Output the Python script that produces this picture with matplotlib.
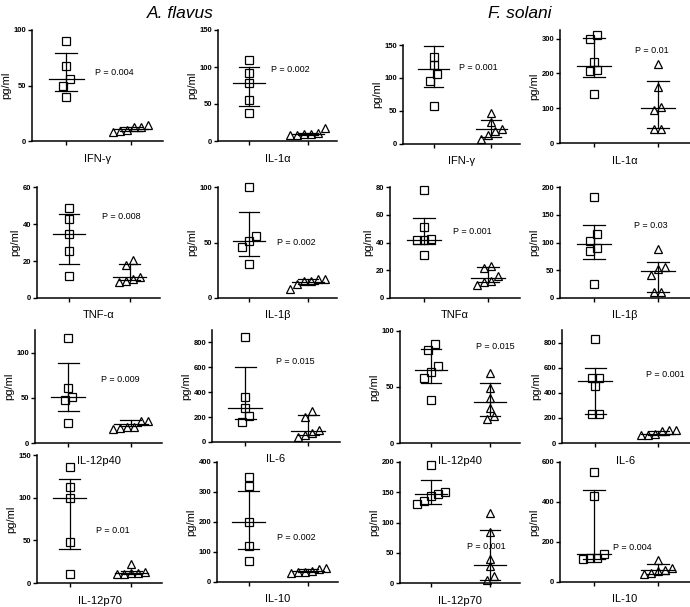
import matplotlib.pyplot as plt
import numpy as np

plt.rcParams['font.family'] = ['Liberation Sans', 'DejaVu Sans']

# panel order: row by row, columns = A. flavus (2), F. solani (2)
names = ['IFN-γ', 'IL-1α', 'IFN-γ', 'IL-1α',
         'TNF-α', 'IL-1β', 'TNFα', 'IL-1β',
         'IL-12p40', 'IL-6', 'IL-12p40', 'IL-6',
         'IL-12p70', 'IL-10', 'IL-12p70', 'IL-10']
pvals = ['0.004', '0.002', '0.001', '0.01',
         '0.008', '0.002', '0.001', '0.03',
         '0.009', '0.015', '0.015', '0.001',
         '0.01', '0.002', '0.001', '0.004']
ymax = [100, 150, 150, 325, 60, 100, 80, 200, 125, 900, 100, 900, 150, 400, 200, 600]
ystep = [50, 50, 50, 100, 20, 50, 20, 50, 50, 200, 50, 200, 50, 100, 50, 200]

# patients (squares) and controls (triangles)
af_ifng = [90, 68, 56, 50, 40]
af_ifng_c = [13, 10, 8, 9, 13, 14]
af_il1a = [109, 92, 79, 56, 38]
af_il1a_c = [11, 9, 8, 8, 10, 17]
fs_ifng = [132, 120, 106, 96, 58]
fs_ifng_c = [47, 34, 22, 19, 13, 7]
fs_il1a = [300, 310, 233, 209, 206, 140]
fs_il1a_c = [228, 161, 104, 96, 41, 41]
af_tnfa = [48.6, 42.7, 34.6, 25.2, 11.7]
af_tnfa_c = [20.4, 17.7, 10.5, 11.4, 8.6, 9]
af_il1b = [100, 55.6, 51.4, 46, 30.5]
af_il1b_c = [17, 15, 8.5, 13, 15, 17]
fs_tnfa = [77.6, 51.2, 41.6, 41.6, 42.5, 31.2]
fs_tnfa_c = [23.3, 21.6, 16.1, 12, 9.6, 11.3]
fs_il1b = [182, 115, 103, 90, 84, 26]
fs_il1b_c = [89, 52, 55.5, 42, 10, 10]
af_il12p40 = [116.5, 60.4, 50.5, 47.6, 22]
af_il12p40_c = [24, 18, 16, 17, 18, 24]
af_il6 = [846, 362, 276, 207, 161]
af_il6_c = [250, 201, 72, 94, 40, 54]
fs_il12p40 = [88, 82.7, 68.5, 63.4, 58.3, 38.7]
fs_il12p40_c = [62.5, 49.4, 40.5, 31.5, 21.7, 23.8]
fs_il6 = [827, 521, 521, 457, 234, 234]
fs_il6_c = [106, 74, 66, 66, 93, 106]
af_il12p70 = [136, 113, 100, 48, 10]
af_il12p70_c = [22, 13, 10, 11, 12, 12]
af_il10 = [350, 320, 200, 120, 70]
af_il10_c = [48, 35, 30, 32, 38, 45]
fs_il12p70 = [195, 150, 147, 143, 135, 130]
fs_il12p70_c = [115, 85, 40, 28, 12, 5]
fs_il10 = [550, 430, 140, 120, 115, 122]
fs_il10_c = [110, 70, 60, 55, 45, 40]

cases = [af_ifng, af_il1a, fs_ifng, fs_il1a, af_tnfa, af_il1b, fs_tnfa, fs_il1b,
         af_il12p40, af_il6, fs_il12p40, fs_il6, af_il12p70, af_il10, fs_il12p70, fs_il10]
ctls = [af_ifng_c, af_il1a_c, fs_ifng_c, fs_il1a_c, af_tnfa_c, af_il1b_c, fs_tnfa_c, fs_il1b_c,
        af_il12p40_c, af_il6_c, fs_il12p40_c, fs_il6_c, af_il12p70_c, af_il10_c, fs_il12p70_c, fs_il10_c]

# summary line and bars (centre, low, high)
summ_case = [(56, 45, 79), (78.6, 47, 100), (113, 87, 148), (221, 190, 303),
             (34.6, 18.4, 45.6), (51.7, 38, 77.3), (42, 39, 57.7), (97, 70, 131),
             (50.5, 35.5, 88.6), (274, 188, 604), (65, 53.6, 84), (492, 234, 601),
             (100, 40, 122), (200, 110, 305), (147, 130, 170), (140, 115, 460)]
summ_ctl = [(11, 9, 13), (9.5, 8, 11), (22, 11, 37), (102, 43, 178),
            (11.2, 10, 18.4), (14.5, 13, 17), (14.4, 11.3, 22.4), (49, 11, 64.5),
            (21, 19, 25.6), (86, 59, 215), (37, 24, 54), (74, 66, 95),
            (12, 10, 14), (38, 32, 45), (30, 5, 88), (60, 40, 90)]

# layout in pixels: (left, top, right, bottom)
W, H = 690, 607
boxes = [(32, 30, 163, 141), (218, 30, 337, 141), (403, 45, 520, 144), (560, 30, 690, 143),
         (37, 187, 160, 298), (218, 187, 337, 298), (390, 187, 520, 298), (560, 187, 690, 298),
         (35, 330, 162, 443), (212, 330, 340, 442), (400, 331, 520, 443), (562, 330, 690, 443),
         (37, 455, 162, 583), (217, 462, 338, 582), (400, 462, 520, 583), (560, 462, 690, 582)]
ptxt = [(1.45, 62, 'left'), (1.37, 96, 'left'), (1.44, 116, 'left'), (1.9, 266, 'center'),
        (1.55, 44, 'left'), (1.47, 50, 'left'), (1.46, 48, 'left'), (1.63, 131, 'left'),
        (1.52, 70, 'left'), (1.48, 650, 'left'), (1.76, 86, 'left'), (1.8, 545, 'left'),
        (1.43, 62, 'left'), (1.47, 150, 'left'), (1.6, 60, 'left'), (1.3, 170, 'left')]

XL = (0.47, 2.5)
MS = 7.0  # marker size, px


def swarm(vals, ppu_y, upx_x):
    # spread points that sit within one marker of each other, centred on the column
    order = np.argsort(vals)
    off = np.zeros(len(vals))
    groups, cur = [], [order[0]]
    for k in order[1:]:
        if (vals[k] - vals[cur[-1]]) * ppu_y < MS:
            cur.append(k)
        else:
            groups.append(cur)
            cur = [k]
    groups.append(cur)
    for g in groups:
        n = len(g)
        for i, k in enumerate(g):
            off[k] = (i - (n - 1) / 2) * MS * upx_x
    return off


fig = plt.figure(figsize=(W / 100, H / 100), dpi=100)

for i in range(16):
    l, t, r, b = boxes[i]
    ax = fig.add_axes([l / W, 1 - b / H, (r - l) / W, (b - t) / H])
    ax.patch.set_visible(False)
    ax.set_xlim(*XL)
    ax.set_ylim(0, ymax[i])
    ppu_y = (b - t) / ymax[i]
    upx_x = (XL[1] - XL[0]) / (r - l)
    for xc, vals, summ, mk in [(1, cases[i], summ_case[i], 's'), (2, ctls[i], summ_ctl[i], '^')]:
        vals = np.array(vals, dtype=float)
        xs = xc + swarm(vals, ppu_y, upx_x)
        ax.plot(xs, vals, mk, ms=5.2 if mk == 's' else 5.6, mfc='none', mec='black',
                mew=0.9, zorder=3, clip_on=False)
        c, lo, hi = summ
        ax.plot([xc, xc], [lo, hi], color='black', lw=0.9, zorder=2)
        ax.plot([xc - 0.27, xc + 0.27], [c, c], color='black', lw=0.9, zorder=2)
        ax.plot([xc - 0.17, xc + 0.17], [lo, lo], color='black', lw=0.9, zorder=2)
        ax.plot([xc - 0.17, xc + 0.17], [hi, hi], color='black', lw=0.9, zorder=2)
    ax.spines['top'].set_visible(False)
    ax.spines['right'].set_visible(False)
    ax.spines['left'].set_linewidth(1.1)
    ax.spines['bottom'].set_linewidth(1.1)
    ax.set_xticks([1, 2])
    ax.set_xticklabels([])
    ax.set_yticks(np.arange(0, ymax[i] + 1, ystep[i]))
    ax.tick_params(axis='both', length=3, width=1.0, direction='out', pad=1)
    for lab in ax.get_yticklabels():
        lab.set_fontsize(5.5)
        lab.set_fontweight('bold')
    ax.set_xlabel(names[i], fontsize=8, labelpad=5)
    ax.set_ylabel('pg/ml', fontsize=8, labelpad=2)
    px, py, ha = ptxt[i]
    ax.text(px, py, 'P = ' + pvals[i], fontsize=6.5, ha=ha, va='center')

fig.text(180 / W, 1 - 13 / H, 'A. flavus', fontsize=12.5, style='italic', ha='center', va='center')
fig.text(520 / W, 1 - 13 / H, 'F. solani', fontsize=12.5, style='italic', ha='center', va='center')

fig.savefig('out.png', dpi=100)
